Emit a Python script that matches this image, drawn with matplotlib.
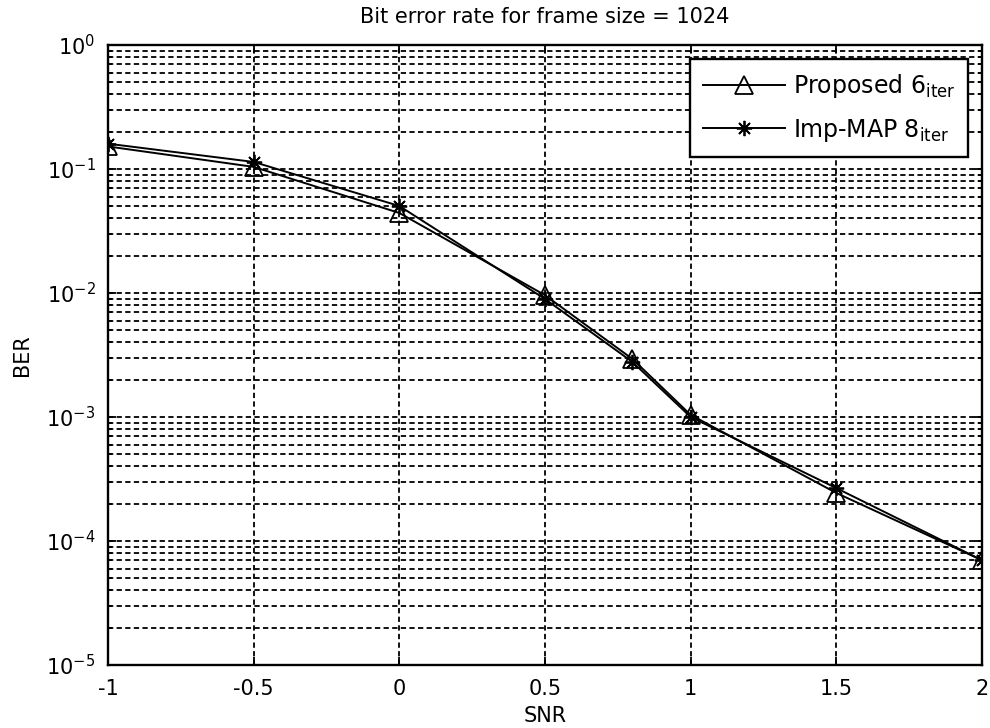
import matplotlib
matplotlib.use("Agg")
import matplotlib.pyplot as plt
from matplotlib.ticker import LogLocator, NullFormatter, FixedLocator

plt.rcParams['font.family'] = ['DejaVu Sans']
plt.rcParams['mathtext.fontset'] = 'dejavusans'
plt.rcParams['lines.scale_dashes'] = False

snr = [-1, -0.5, 0, 0.5, 0.8, 1, 1.5, 2]
proposed = [0.152, 0.104, 0.0442, 0.0096, 0.00294, 0.00104, 0.000244, 7.0e-5]
impmap = [0.160, 0.114, 0.0503, 0.00895, 0.00278, 0.00100, 0.000267, 7.0e-5]
xticks = [-1, -0.5, 0, 0.5, 1, 1.5, 2]
xticklabels = ['-1', '-0.5', '0', '0.5', '1', '1.5', '2']
labels = [r'Proposed $6_{\mathrm{iter}}$', r'Imp-MAP $8_{\mathrm{iter}}$']
title = 'Bit error rate for frame size = 1024'

W, H = 990, 728
fig = plt.figure(figsize=(W / 100, H / 100), dpi=100)
ax = fig.add_axes([108 / W, 1 - 665 / H, (982 - 108) / W, (665 - 45) / H])

ax.set_yscale('log')
ax.set_xlim(-1, 2)
ax.set_ylim(1e-5, 1)

ax.plot(snr, proposed, color='black', lw=1.4, marker='^', markersize=13,
        markerfacecolor='none', markeredgecolor='black', markeredgewidth=1.3,
        label=labels[0], zorder=3)
ax.plot(snr, impmap, color='black', lw=1.4, marker=(8, 2, 0), markersize=11,
        markeredgecolor='black', markeredgewidth=1.3, label=labels[1], zorder=3)

ax.xaxis.set_major_locator(FixedLocator(xticks))
ax.set_xticklabels(xticklabels)
ax.yaxis.set_major_locator(LogLocator(base=10, numticks=10))
ax.yaxis.set_minor_locator(LogLocator(base=10, subs=range(2, 10), numticks=20))
ax.yaxis.set_minor_formatter(NullFormatter())

gridkw = dict(color='black', linestyle=(0, (3.8, 2.4)), linewidth=1.3)
ax.grid(True, which='major', axis='both', **gridkw)
ax.grid(True, which='minor', axis='y', **gridkw)
ax.set_axisbelow(True)

ax.tick_params(which='both', direction='in', top=True, right=True,
               labelsize=15, width=1.3)
ax.tick_params(which='major', length=6)
ax.tick_params(which='minor', length=3)
ax.tick_params(axis='x', pad=10)
ax.tick_params(axis='y', pad=9)
for s in ax.spines.values():
    s.set_linewidth(1.7)
    s.set_color('black')

ax.set_title(title, fontsize=15, pad=16)
ax.set_xlabel('SNR', fontsize=15, labelpad=5)
ax.set_ylabel('BER', fontsize=15, labelpad=10)

leg = ax.legend(loc='upper right', bbox_to_anchor=(968 / W, 1 - 59 / H),
                bbox_transform=fig.transFigure, borderaxespad=0,
                fontsize=17, handlelength=3.5, labelspacing=0.7,
                borderpad=0.55, handletextpad=0.3, fancybox=False,
                framealpha=1, edgecolor='black')
leg.get_frame().set_linewidth(1.7)

fig.savefig('out.png', dpi=100)
